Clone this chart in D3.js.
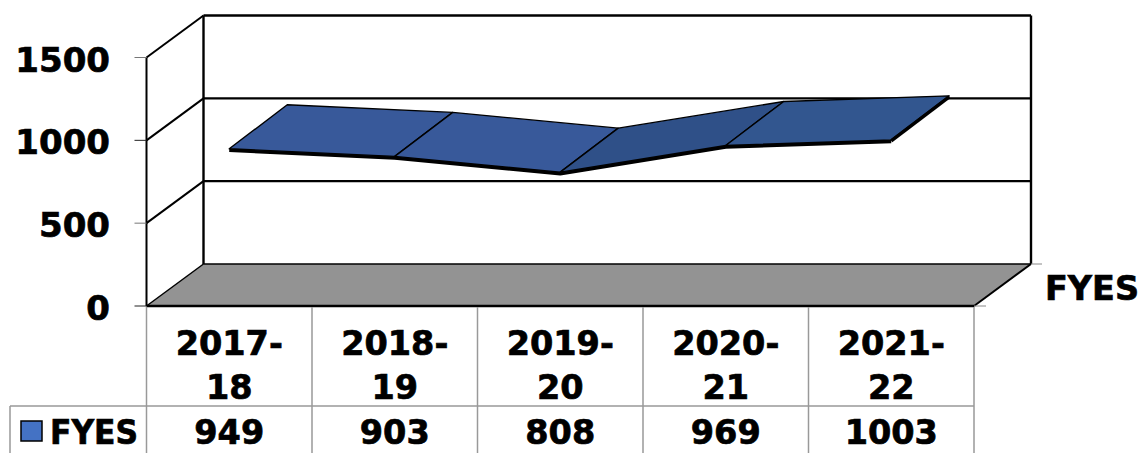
<!DOCTYPE html>
<html><head><meta charset="utf-8">
<script src="https://cdn.jsdelivr.net/npm/d3@7"></script>
<style>html,body{margin:0;padding:0;background:#fff}svg{display:block}text{font-family:"DejaVu Sans";font-weight:700;fill:#000;stroke:#000;stroke-width:.7px}</style>
</head><body><div id="c"></div>
<script>
const categories=[["2017-","18"],["2018-","19"],["2019-","20"],["2020-","21"],["2021-","22"]];
const values=[949,903,808,969,1003];
const seriesName="FYES";
const yTicks=[0,500,1000,1500];
const W=1141,H=453,dx=57,dy=-42,rdx=58,rdy=-44;
const svg=d3.select("#c").append("svg").attr("width",W).attr("height",H);
const x=d3.scaleBand().domain(d3.range(categories.length)).range([146.5,974]);
const y=d3.scaleLinear().domain([0,1500]).range([306,57.5]);
const cx=i=>x(i)+x.bandwidth()/2;
const [x0,x1]=x.range();
const line=(a,b,c,d,col,w)=>svg.append("line").attr("x1",a).attr("y1",b).attr("x2",c).attr("y2",d).attr("stroke",col).attr("stroke-width",w);
// floor
svg.append("polygon").attr("points",[[x0,y(0)],[x1,y(0)],[x1+dx,y(0)+dy],[x0+dx,y(0)+dy]].join(" ")).attr("fill","#939393");
// walls and gridlines
yTicks.slice(1).forEach(t=>{
  line(x0+dx,y(t)+dy,x1+dx,y(t)+dy,"#000",2.4);
  line(x0,y(t),x0+dx,y(t)+dy,"#000",2);
});
line(x0+dx,y(0)+dy,x1+dx,y(0)+dy,"#000",1.5);
line(x0,y(0),x0+dx,y(0)+dy,"#000",1.5);
line(x1,y(0),x1+dx,y(0)+dy,"#000",2);
line(x0+dx,y(1500)+dy,x0+dx,y(0)+dy,"#000",2.4);
line(x1+dx,y(1500)+dy,x1+dx,y(0)+dy,"#000",2.4);
line(x0,y(1500),x0,y(0),"#000",2);
line(x0,y(0),x1,y(0),"#000",2.4);
// ticks
yTicks.forEach(t=>{
  line(x0-12,y(t),x0,y(t),t%1000==500?"#777":"#222",1);
  svg.append("text").attr("x",110).attr("y",y(t)+14).attr("text-anchor","end").attr("font-size",34).text(t);
});
line(x1,y(0),x1+12,y(0),"#888",1);
line(x1+dx,y(0)+dy,x1+dx+11,y(0)+dy,"#888",1);
// ribbon
const faces=["#38599a","#38599a","#2f5088","#32568f"];
svg.append("path").datum(values)
  .attr("d",d3.line().x((v,i)=>cx(i)).y(v=>y(v)+1.5))
  .attr("fill","none").attr("stroke","#000").attr("stroke-width",3.6).attr("stroke-linejoin","round");
values.slice(0,-1).forEach((v,i)=>{
  const a=[cx(i),y(v)],b=[cx(i+1),y(values[i+1])];
  svg.append("polygon").attr("points",[a,b,[b[0]+rdx,b[1]+rdy],[a[0]+rdx,a[1]+rdy]].join(" ")).attr("fill",faces[i]).attr("stroke","#000").attr("stroke-width",1.4).attr("stroke-linejoin","round");
});
{const n=values.length-1,p=[cx(n),y(values[n])];line(p[0],p[1]+1,p[0]+rdx,p[1]+rdy+1,"#000",3.4);}
// data table
const tTop=y(0),tMid=406;
x.domain().concat(categories.length).forEach(i=>{const xx=i<categories.length?x(i):x1;line(xx,tTop+1,xx,H,"#999",1.5);});
line(10,tMid,x1,tMid,"#999",1.5);
line(10,tMid,10,H,"#999",1.5);
categories.forEach((c,i)=>{
  svg.append("text").attr("x",cx(i)).attr("y",355).attr("text-anchor","middle").attr("font-size",33.5).text(c[0]);
  svg.append("text").attr("x",cx(i)).attr("y",399).attr("text-anchor","middle").attr("font-size",33.5).text(c[1]);
  svg.append("text").attr("x",cx(i)).attr("y",444).attr("text-anchor","middle").attr("font-size",33.5).text(values[i]);
});
svg.append("rect").attr("x",21).attr("y",421).attr("width",21).attr("height",20).attr("fill","#4472c4").attr("stroke","#000").attr("stroke-width",1.5);
svg.append("text").attr("x",50).attr("y",444).attr("font-size",34).attr("textLength",88).attr("lengthAdjust","spacingAndGlyphs").text(seriesName);
svg.append("text").attr("x",1045).attr("y",300).attr("font-size",34).attr("textLength",94).attr("lengthAdjust","spacingAndGlyphs").text(seriesName);
</script></body></html>
